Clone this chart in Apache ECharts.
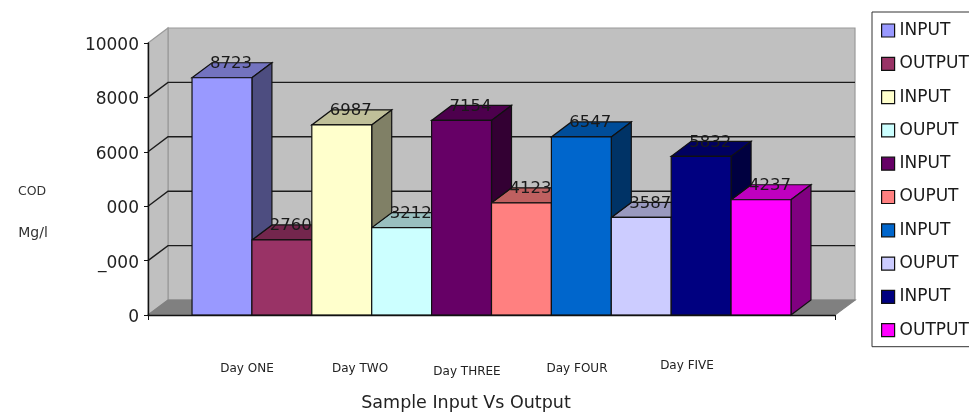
<!DOCTYPE html>
<html>
<head>
<meta charset="utf-8">
<style>html,body{margin:0;padding:0;background:#fff}#chart{width:969px;height:415px}</style>
<script src="https://cdn.jsdelivr.net/npm/echarts@6/dist/echarts.min.js"></script>
</head>
<body>
<div id="chart"></div>
<script>
// Daily COD readings, one input and one output sample per day
const dayNames = ['Day ONE', 'Day TWO', 'Day THREE', 'Day FOUR', 'Day FIVE'];
const inputValues = [8723, 6987, 7154, 6547, 5832];
const outputValues = [2760, 3212, 4123, 3587, 4237];
const legendNames = ['INPUT', 'OUTPUT', 'INPUT', 'OUPUT', 'INPUT', 'OUPUT', 'INPUT', 'OUPUT', 'INPUT', 'OUTPUT'];
const barColors = ['#9999FF', '#993366', '#FFFFCC', '#CCFFFF', '#660066', '#FF8080', '#0066CC', '#CCCCFF', '#000080', '#FF00FF'];
const yTicks = [0, 2000, 4000, 6000, 8000, 10000];
const yTickLabels = ['0', '_000', '000', '6000', '8000', '10000'];
const axisCategory = ['Sample Input Vs Output'];

// Interleave input and output so each bar knows its right-hand neighbour
const barValues = dayNames.flatMap((_, i) => [inputValues[i], outputValues[i]]);

const DEPTH_X = 20, DEPTH_Y = -15;     // oblique projection of the depth axis
const BAR_GAP_RATIO = 1.47;            // side gap of the cluster, in bar widths
const UI_FONT = '"DejaVu Sans", sans-serif';

function shade(hex, k) {
  const n = parseInt(hex.slice(1), 16);
  const c = s => Math.round(((n >> s) & 255) * k);
  return `rgb(${c(16)},${c(8)},${c(0)})`;
}
const poly = (points, fill, z2, stroke) => ({
  type: 'polygon', z2,
  shape: { points },
  style: { fill, stroke: stroke || '#111', lineWidth: 1.2 }
});

// Back wall, side wall and floor of the plot box
function renderWalls(params, api) {
  const band = api.size([1, 0])[0];
  const cx = api.coord([0, 0])[0];
  const x0 = cx - band / 2, x1 = cx + band / 2;
  const y0 = api.coord([0, 0])[1], yT = api.coord([0, 10000])[1];
  const grey = '#C0C0C0', edge = '#9a9a9a';
  return { type: 'group', children: [
    poly([[x0 + DEPTH_X, yT + DEPTH_Y], [x1 + DEPTH_X, yT + DEPTH_Y], [x1 + DEPTH_X, y0 + DEPTH_Y], [x0 + DEPTH_X, y0 + DEPTH_Y]], grey, 1, edge),
    poly([[x0, yT], [x0 + DEPTH_X, yT + DEPTH_Y], [x0 + DEPTH_X, y0 + DEPTH_Y], [x0, y0]], grey, 1, edge),
    poly([[x0, y0], [x0 + DEPTH_X, y0 + DEPTH_Y], [x1 + DEPTH_X, y0 + DEPTH_Y], [x1, y0]], '#808080', 2, '#808080')
  ] };
}

// Gridlines wrap from the side wall onto the back wall
function renderGrid(params, api) {
  const v = api.value(1);
  if (v === 0 || v === 10000) return null;
  const band = api.size([1, 0])[0];
  const cx = api.coord([0, 0])[0];
  const x0 = cx - band / 2, x1 = cx + band / 2;
  const y = api.coord([0, v])[1];
  return { type: 'polyline', z2: 3,
    shape: { points: [[x0, y], [x0 + DEPTH_X, y + DEPTH_Y], [x1 + DEPTH_X, y + DEPTH_Y]] },
    style: { fill: null, stroke: '#1c1c1c', lineWidth: 1.4 } };
}

// One oblique box per reading. Layer order: top, value label, side, front,
// so a bar's side hides the start of its right neighbour's label.
function makeBarRenderer(index) {
  return function (params, api) {
    const value = api.value(1);
    const band = api.size([1, 0])[0];
    const w = band / (barValues.length + BAR_GAP_RATIO);
    const cx = api.coord([0, 0])[0];
    const xl = cx + (index - (barValues.length - 1) / 2 - 0.5) * w;
    const xr = xl + w;
    const yb = api.coord([0, 0])[1];
    const yt = api.coord([0, value])[1];
    const next = barValues[index + 1];
    const sideBase = next === undefined ? yb : api.coord([0, Math.min(next, value)])[1];
    const color = barColors[index];
    const children = [
      poly([[xl, yt], [xr, yt], [xr + DEPTH_X, yt + DEPTH_Y], [xl + DEPTH_X, yt + DEPTH_Y]], shade(color, 0.75), 10),
      { type: 'text', z2: 11,
        style: { text: String(value), x: (xl + xr) / 2 + DEPTH_X / 2 - 1, y: yt + DEPTH_Y + 1,
          font: '16.5px ' + UI_FONT, fill: '#1a1a1a', align: 'center', verticalAlign: 'middle' } },
      poly([[xr, yt], [xr + DEPTH_X, yt + DEPTH_Y], [xr + DEPTH_X, sideBase + DEPTH_Y], [xr, sideBase]], shade(color, 0.5), 12),
      poly([[xl, yt], [xr, yt], [xr, yb], [xl, yb]], color, 13)
    ];
    return { type: 'group', children };
  };
}

// Series names are unique per day so the legend keeps its repeated captions
const barSeriesNames = legendNames.map((n, i) => `${dayNames[Math.floor(i / 2)]} ${n}`);

const dayLabelPlacement = [[247, 369], [360, 369], [467, 372], [577, 369], [687, 366]];

const option = {
  animation: false,
  backgroundColor: '#fff',
  grid: { left: 148, right: 134, top: 43, bottom: 100 },
  xAxis: {
    type: 'category', data: axisCategory, z: 5,
    axisLine: { show: true, lineStyle: { color: '#111', width: 1.4 } },
    axisTick: { show: true, length: 5, lineStyle: { color: '#111' } },
    axisLabel: { show: false }, splitLine: { show: false }
  },
  yAxis: {
    type: 'value', min: 0, max: 10000, interval: 2000, z: 5,
    axisLine: { show: true, lineStyle: { color: '#111', width: 1.4 } },
    axisTick: { show: true, length: 4, lineStyle: { color: '#111' } },
    splitLine: { show: false },
    axisLabel: {
      margin: 9, color: '#222', fontFamily: UI_FONT, fontSize: 17,
      verticalAlign: 'top', lineHeight: 5,
      formatter: v => yTickLabels[yTicks.indexOf(v)]
    }
  },
  legend: {
    orient: 'vertical', left: 872, top: 12,
    padding: [9, 24, 7, 9],
    itemWidth: 13, itemHeight: 13, itemGap: 14.3,
    backgroundColor: '#fff', borderColor: '#333', borderWidth: 1,
    selectedMode: false,
    icon: 'rect',
    itemStyle: { borderColor: '#111', borderWidth: 1.2 },
    data: barSeriesNames,
    formatter: name => name.split(' ').pop(),
    textStyle: { fontFamily: UI_FONT, fontSize: 17, color: '#1a1a1a', lineHeight: 19 }
  },
  graphic: [
    ...dayNames.map((text, i) => ({
      type: 'text', x: dayLabelPlacement[i][0], y: dayLabelPlacement[i][1],
      style: { text, font: '12px ' + UI_FONT, fill: '#222', align: 'center', verticalAlign: 'middle' }
    })),
    { type: 'text', x: 466, y: 403, style: { text: axisCategory[0], font: '17.5px ' + UI_FONT, fill: '#222', align: 'center', verticalAlign: 'middle' } },
    { type: 'text', x: 32, y: 192, style: { text: 'COD', font: '12.5px ' + UI_FONT, fill: '#333', align: 'center', verticalAlign: 'middle' } },
    { type: 'text', x: 33, y: 233, style: { text: 'Mg/l', font: '14px ' + UI_FONT, fill: '#333', align: 'center', verticalAlign: 'middle' } }
  ],
  series: [
    { type: 'custom', name: 'walls', z: 1, silent: true, renderItem: renderWalls, data: [[0, 0]], encode: { x: 0, y: 1 } },
    { type: 'custom', name: 'grid', z: 1, silent: true, renderItem: renderGrid, data: yTicks.map(v => [0, v]), encode: { x: 0, y: 1 } },
    ...barValues.map((v, i) => ({
      type: 'custom', name: barSeriesNames[i], z: 2,
      itemStyle: { color: barColors[i] },
      renderItem: makeBarRenderer(i),
      data: [[0, v]], encode: { x: 0, y: 1 }
    }))
  ]
};

echarts.init(document.getElementById('chart'), null, { renderer: 'canvas' }).setOption(option);
</script>
</body>
</html>
